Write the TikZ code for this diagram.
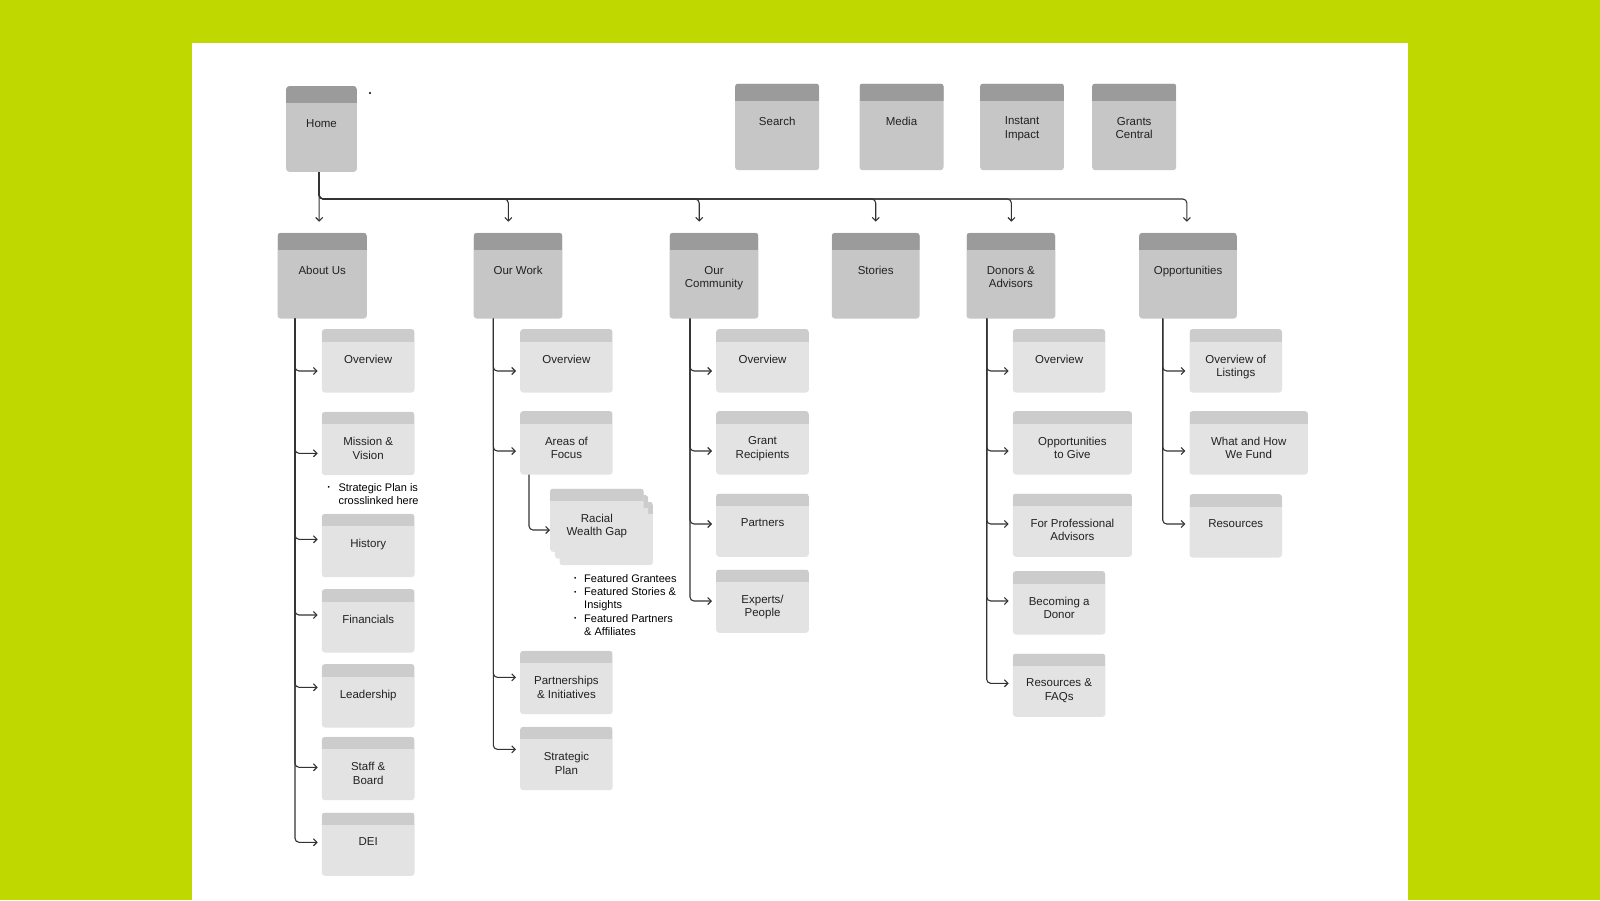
\documentclass[tikz,border=0pt]{standalone}
\usepackage{fontspec}
\setmainfont{Liberation Sans}
\usetikzlibrary{arrows.meta,positioning}
\definecolor{limebg}{HTML}{BFD800}
\definecolor{darkbody}{HTML}{C6C6C6}
\definecolor{darkhead}{HTML}{9B9B9B}
\definecolor{lightbody}{HTML}{E4E3E4}
\definecolor{lighthead}{HTML}{CDCCCD}
\definecolor{linegray}{HTML}{333333}
\definecolor{textgray}{HTML}{222222}
\newcommand{\boxfont}{\fontsize{11.5}{13.3}\selectfont}
\newcommand{\notefont}{\fontsize{11}{13.3}\selectfont}
\newcommand{\smallbullet}{\raisebox{0.12em}{\scalebox{0.6}{\textbullet}}}

\begin{document}
\begin{tikzpicture}[
    x=1pt, y=-1pt,
    tile/.style={rectangle, rounded corners=3pt, anchor=north west, inner sep=0pt},
    boxlabel/.style={anchor=north, inner sep=0pt, align=center, font=\boxfont, text=textgray},
    topbox/.style={tile, fill=darkbody, minimum width=89pt, minimum height=85.6pt,
        path picture={\fill[darkhead, sharp corners] (path picture bounding box.north west) rectangle ([yshift=-17pt]path picture bounding box.north east);},
        label={[boxlabel, yshift=-33.5pt]north:#1}},
    pagecard/.style={tile, fill=lightbody, minimum width=92.5pt, minimum height=63.3pt,
        path picture={\fill[lighthead, sharp corners] (path picture bounding box.north west) rectangle ([yshift=-12.5pt]path picture bounding box.north east);}},
    pagebox/.style={pagecard, label={[boxlabel, yshift=-25.5pt]north:#1}},
    note/.style={inner sep=0pt, anchor=base west, font=\notefont, text=black},
    arrow/.style={draw=linegray, -{Straight Barb[length=3.5pt, width=7pt]}, line width=1.1pt, rounded corners=4pt},
    branch/.style={arrow, shorten >=4pt}
]

% background and sheet
\fill[limebg] (0,0) rectangle (1600,900);
\fill[white] (191.8,42.9) rectangle (1408.2,900);
\fill (370,93) circle (1.2pt);

% top row
\node[topbox=Home, minimum width=70.7pt] (home) at (286,86) {};
\node[topbox=Search, minimum width=84pt, minimum height=86.7pt] (search) at (735,83.3) {};
\node[topbox=Media, minimum width=84pt, minimum height=86.7pt] (media) at (859.3,83.3) {};
\node[topbox={Instant\\Impact}, minimum width=83.7pt, minimum height=86.7pt] (instant) at (980,83.3) {};
\node[topbox={Grants\\Central}, minimum width=84pt, minimum height=86.7pt] (grants) at (1092,83.3) {};

% main sections
\node[topbox={About Us}, minimum width=89.4pt] (aboutus) at (277.3,232.7) {};
\node[topbox={Our Work}, minimum width=88.7pt] (ourwork) at (473.5,232.7) {};
\node[topbox={Our\\Community}, minimum width=88.8pt] (community) at (669.4,232.7) {};
\node[topbox=Stories, minimum width=87.8pt] (stories) at (831.6,232.7) {};
\node[topbox={Donors \&\\Advisors}, minimum width=88.8pt] (donors) at (966.3,232.7) {};
\node[topbox=Opportunities, minimum width=97.7pt] (opport) at (1139,232.7) {};

\coordinate (bus) at (319,199);
\draw[arrow] (home.south -| bus) -- ([xshift=-3pt, yshift=11pt]aboutus.north);
\foreach \n/\dx in {ourwork/-9.7, community/-14.8, stories/0, donors/0.5, opport/-1.2}
  \draw[arrow] (home.south -| bus) -- (bus) -| ([xshift=\dx pt, yshift=11pt]\n.north);

% about us
\node[pagebox=Overview, minimum width=92.6pt] (ab1) at (321.7,329) {};
\node[pagebox={Mission \&\\Vision}, minimum width=92.6pt] (ab2) at (321.7,411.7) {};
\node[note] (abnote) at (327.5,491) {\begin{tabular}[t]{@{}l@{\hspace{8.5pt}}l@{}}\smallbullet & Strategic Plan is\\ & crosslinked here\end{tabular}};
\node[pagebox=History, minimum width=92.6pt] (ab3) at (321.7,513.7) {};
\node[pagebox=Financials, minimum width=92.6pt] (ab4) at (321.7,589) {};
\node[pagebox=Leadership, minimum width=92.6pt] (ab5) at (321.7,664) {};
\node[pagebox={Staff \&\\Board}, minimum width=92.6pt] (ab6) at (321.7,736.7) {};
\node[pagebox=DEI, minimum width=92.6pt] (ab7) at (321.7,812.3) {};
\foreach \c/\y in {ab1/371, ab2/453.3, ab3/539.3, ab4/615, ab5/687.3, ab6/767.3, ab7/842.3}
  \draw[branch] (aboutus.south -| 295,0) |- (\c.west |- 0,\y);

% our work
\node[pagebox=Overview] (ow1) at (520,329) {};
\node[pagebox={Areas of\\Focus}] (ow2) at (520,411) {};
\node[pagecard, minimum width=93.3pt] (rwgback2) at (559.4,501.7) {};
\node[pagecard, minimum width=93.3pt] (rwgback1) at (554.7,495) {};
\node[pagebox={Racial\\Wealth Gap}, minimum width=93.3pt] (rwg) at (550,488.3) {};
\node[note] (rwgnote) at (574,582.3) {\begin{tabular}[t]{@{}l@{\hspace{7.7pt}}l@{}}\smallbullet & Featured Grantees\\ \smallbullet & Featured Stories \&\\ & Insights\\ \smallbullet & Featured Partners\\ & \& Affiliates\end{tabular}};
\node[pagebox={Partnerships\\\& Initiatives}] (ow3) at (520,650.7) {};
\node[pagebox={Strategic\\Plan}] (ow4) at (520,726.7) {};
\foreach \c/\y in {ow1/371, ow2/451, ow3/677.3, ow4/749.3}
  \draw[branch] (ourwork.south -| 493.3,0) |- (\c.west |- 0,\y);
\draw[arrow] (ow2.south -| 529,0) |- (rwg.west |- 0,530);

% our community
\node[pagebox=Overview, minimum width=92.7pt] (oc1) at (716,329) {};
\node[pagebox={Grant\\Recipients}, minimum width=92.7pt] (oc2) at (716,411) {};
\node[pagebox=Partners, minimum width=92.7pt] (oc3) at (716,493.3) {};
\node[pagebox={Experts/\\People}, minimum width=92.7pt] (oc4) at (716,569.3) {};
\foreach \c/\y in {oc1/371, oc2/451, oc3/524, oc4/601}
  \draw[branch] (community.south -| 690,0) |- (\c.west |- 0,\y);

% donors & advisors
\node[pagebox=Overview] (dn1) at (1012.7,329) {};
\node[pagebox={Opportunities\\to Give}, minimum width=119pt] (dn2) at (1012.7,411) {};
\node[pagebox={For Professional\\Advisors}, minimum width=119pt] (dn3) at (1012.7,493.3) {};
\node[pagebox={Becoming a\\Donor}] (dn4) at (1012.7,571) {};
\node[pagebox={Resources \&\\FAQs}] (dn5) at (1012.7,653.3) {};
\foreach \c/\y in {dn1/371, dn2/451, dn3/524, dn4/601, dn5/683.3}
  \draw[branch] (donors.south -| 986.7,0) |- (\c.west |- 0,\y);

% opportunities
\node[pagebox={Overview of\\Listings}] (op1) at (1189.3,329) {};
\node[pagebox={What and How\\We Fund}, minimum width=118.4pt] (op2) at (1189.3,411) {};
\node[pagebox=Resources] (op3) at (1189.3,494) {};
\foreach \c/\y in {op1/371, op2/451, op3/524}
  \draw[branch] (opport.south -| 1162.7,0) |- (\c.west |- 0,\y);

\end{tikzpicture}
\end{document}
